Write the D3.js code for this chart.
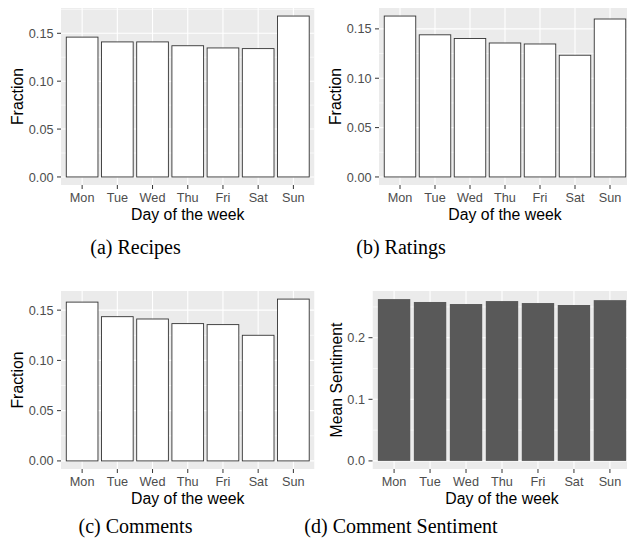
<!DOCTYPE html>
<html><head><meta charset="utf-8">
<script src="https://cdn.jsdelivr.net/npm/d3@7"></script>
<style>body{margin:0;background:#fff}svg{display:block}</style>
</head><body>
<script>
const days = ["Mon","Tue","Wed","Thu","Fri","Sat","Sun"];
const recipes   = [0.146, 0.141, 0.141, 0.137, 0.1347, 0.134, 0.168];
const ratings   = [0.163, 0.144, 0.1403, 0.1357, 0.1347, 0.1233, 0.160];
const comments  = [0.158, 0.1435, 0.1412, 0.1366, 0.1356, 0.125, 0.161];
const sentiment = [0.2627, 0.258, 0.2547, 0.2595, 0.2563, 0.2531, 0.261];
const ticksA = [0, 0.05, 0.10, 0.15];
const ticksD = [0, 0.1, 0.2];
const captions = ["(a) Recipes","(b) Ratings","(c) Comments","(d) Comment Sentiment"];

const W = 627, H = 545;
const svg = d3.select("body").append("svg").attr("width", W).attr("height", H);
const defs = svg.append("defs");

const panels = [
  {vals: recipes, ticks: ticksA, fmt: d3.format(".2f"), minor:[0.025,0.075,0.125,0.175], x0:61, x1:314.5, y0:8, y1:185, title:"Fraction", titleX:22.5, dark:false, cap:captions[0], capX:135.5, capY:254},
  {vals: ratings, ticks: ticksA, fmt: d3.format(".2f"), minor:[0.025,0.075,0.125], x0:379, x1:631, y0:8, y1:185, title:"Fraction", titleX:341, dark:false, cap:captions[1], capX:401, capY:254},
  {vals: comments, ticks: ticksA, fmt: d3.format(".2f"), minor:[0.025,0.075,0.125], x0:61, x1:314.5, y0:291, y1:469, title:"Fraction", titleX:22.5, dark:false, cap:captions[2], capX:135.5, capY:533},
  {vals: sentiment, ticks: ticksD, fmt: d3.format(".1f"), minor:[0.05,0.15,0.25], x0:372.5, x1:631.5, y0:291, y1:469, title:"Mean Sentiment", titleX:341.5, dark:true, cap:captions[3], capX:401, capY:533}
];

panels.forEach((p, i) => {
  const g = svg.append("g");
  const mx = d3.max(p.vals);
  const y = d3.scaleLinear().domain([-0.05*mx, mx*1.05]).range([p.y1, p.y0]);
  const x = d3.scaleLinear().domain([0.4, 7.6]).range([p.x0, p.x1]);
  const step = x(2) - x(1);
  const clipId = "clip" + i;
  defs.append("clipPath").attr("id", clipId).append("rect")
    .attr("x", p.x0).attr("y", p.y0).attr("width", p.x1 - p.x0).attr("height", p.y1 - p.y0);
  const pg = g.append("g").attr("clip-path", `url(#${clipId})`);
  pg.append("rect").attr("x", p.x0).attr("y", p.y0).attr("width", p.x1 - p.x0).attr("height", p.y1 - p.y0).attr("fill", "#EBEBEB");
  pg.selectAll(".mn").data(p.minor).join("line")
    .attr("x1", p.x0).attr("x2", p.x1).attr("y1", d => y(d)).attr("y2", d => y(d))
    .attr("stroke", "#fff").attr("stroke-width", 0.6);
  pg.selectAll(".mj").data(p.ticks).join("line")
    .attr("x1", p.x0).attr("x2", p.x1).attr("y1", d => y(d)).attr("y2", d => y(d))
    .attr("stroke", "#fff").attr("stroke-width", 1.1);
  pg.selectAll(".vj").data(days).join("line")
    .attr("x1", (d, j) => x(j + 1)).attr("x2", (d, j) => x(j + 1)).attr("y1", p.y0).attr("y2", p.y1)
    .attr("stroke", "#fff").attr("stroke-width", 1.1);
  pg.selectAll(".bar").data(p.vals).join("rect")
    .attr("x", (d, j) => x(j + 1) - 0.45*step)
    .attr("width", 0.9*step)
    .attr("y", d => y(d))
    .attr("height", d => y(0) - y(d))
    .attr("fill", p.dark ? "#595959" : "#fff")
    .attr("stroke", p.dark ? "none" : "#333")
    .attr("stroke-width", 0.9);

  const ya = g.append("g");
  ya.selectAll("line").data(p.ticks).join("line")
    .attr("x1", p.x0 - 4).attr("x2", p.x0).attr("y1", d => y(d)).attr("y2", d => y(d))
    .attr("stroke", "#333").attr("stroke-width", 1);
  ya.selectAll("text").data(p.ticks).join("text")
    .attr("x", p.x0 - 7.5).attr("y", d => y(d)).attr("dy", "0.36em")
    .attr("text-anchor", "end").attr("fill", "#4D4D4D")
    .style("font", "12.7px 'Liberation Sans', Arial, sans-serif").text(d => p.fmt(d));
  const xa = g.append("g");
  xa.selectAll("line").data(days).join("line")
    .attr("x1", (d, j) => x(j + 1)).attr("x2", (d, j) => x(j + 1)).attr("y1", p.y1).attr("y2", p.y1 + 4)
    .attr("stroke", "#333").attr("stroke-width", 1);
  xa.selectAll("text").data(days).join("text")
    .attr("x", (d, j) => x(j + 1)).attr("y", p.y1 + 17)
    .attr("text-anchor", "middle").attr("fill", "#4D4D4D")
    .style("font", "12.7px 'Liberation Sans', Arial, sans-serif").text(d => d);
  g.append("text").attr("x", x(4)).attr("y", p.y1 + 34.5)
    .attr("text-anchor", "middle").attr("fill", "#000")
    .style("font", "15.8px 'Liberation Sans', Arial, sans-serif").text("Day of the week");
  g.append("text").attr("transform", `translate(${p.titleX},${(p.y0 + p.y1) / 2}) rotate(-90)`)
    .attr("text-anchor", "middle").attr("fill", "#000")
    .style("font", "15.8px 'Liberation Sans', Arial, sans-serif").text(p.title);
  svg.append("text").attr("x", p.capX).attr("y", p.capY).attr("text-anchor", "middle")
    .attr("fill", "#000").style("font", "20px 'Liberation Serif', 'Times New Roman', serif").text(p.cap);
});
</script>
</body></html>
